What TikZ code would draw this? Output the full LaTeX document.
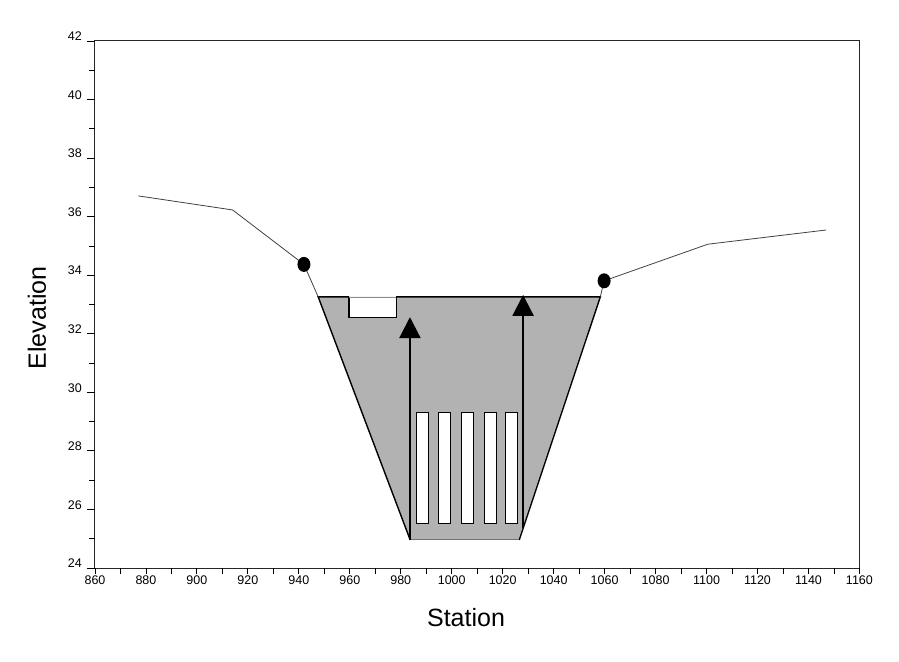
\documentclass[tikz,border=0pt]{standalone}
\usepackage{fontspec}
\setmainfont{Liberation Sans}
\usetikzlibrary{arrows.meta}
\begin{document}
\begin{tikzpicture}[x=2.548pt,y=29.28pt,
  frame/.style={draw=black!85, line width=1pt},
  tickline/.style={draw=black, line width=0.9pt},
  ground/.style={draw=black!75, line width=0.8pt},
  ticklab/.style={font=\fontsize{12.5}{14}\selectfont, inner sep=0pt},
  axlab/.style={font=\fontsize{25}{30}\selectfont, inner sep=0pt},
  bank/.style={draw=black, line width=1.4pt},
  pier/.style={fill=white, draw=black, line width=1pt},
  flow/.style={draw=black, line width=2.2pt, -{Triangle[width=21pt,length=21pt]}},
  gauge/.style={fill=black}
]
\useasboundingbox (-37.28,-3.176) rectangle (315.53,19.40);
% frame
\draw[frame] (0,0) rectangle (300,18);
% y ticks
\foreach \e in {0,2,...,18}{
  \draw[tickline] (0,\e) -- ++(-8pt,0);
  \pgfmathtruncatemacro{\lab}{24+\e}
  \node[ticklab, anchor=south east] (yl\e) at ([xshift=-13pt]0,\e) {\lab};
}
\foreach \e in {1,3,...,17}{
  \draw[tickline] (0,\e) -- ++(-6pt,0);
}
% x ticks
\foreach \s in {0,10,...,300}{
  \draw[tickline] (\s,0) -- ++(0,-6pt);
}
\foreach \s in {0,20,...,300}{
  \pgfmathtruncatemacro{\lab}{860+\s}
  \node[ticklab, anchor=north] (xl\s) at ([yshift=-7.7pt]\s,0) {\lab};
}
% axis labels
\node[axlab, rotate=90] (ylabel) at (-22.76,8.54) {Elevation};
\node[axlab, anchor=base] (xlabel) at (145.6,-2.01) {Station};
% points
\coordinate (G1) at (17.0,12.71);
\coordinate (G2) at (54.0,12.23);
\coordinate (C1) at (82.0,10.37);
\coordinate (T1) at (87.6,9.26);
\coordinate (NL) at (99.7,9.26);
\coordinate (NLb) at (99.7,8.56);
\coordinate (NRb) at (118.2,8.56);
\coordinate (NR) at (118.2,9.26);
\coordinate (T2) at (198.3,9.26);
\coordinate (B1) at (123.7,0.96);
\coordinate (B2) at (166.5,0.96);
\coordinate (C2) at (199.8,9.81);
\coordinate (G3) at (240.5,11.06);
\coordinate (G4) at (286.9,11.545);
% channel fill
\fill[black!30] (T1) -- (B1) -- (B2) -- (T2) -- cycle;
\fill[white] (NL) rectangle (NRb);
% piers
\foreach \px in {126.3,134.7,143.9,152.7,161.2}{
  \draw[pier] (\px,1.53) rectangle ++(4.7,3.77);
}
% channel outline
\draw[bank] (NL) -- (T1) -- (B1);
\draw[bank] (NR) -- (T2) -- (B2);
\draw[draw=black, line width=1.1pt] (NL) -- (NLb) -- (NRb) -- (NR);
\draw[draw=black!45, line width=0.8pt] (NL) -- (NR);
\draw[draw=black!55, line width=1pt] (B1) -- (B2);
% ground line
\draw[ground] (G1) -- (G2) -- (C1) -- (T1);
\draw[ground] (T2) -- (C2) -- (G3) -- (G4);
% gauges
\fill[gauge] (C1) ellipse [x radius=6.5pt, y radius=7.5pt];
\fill[gauge] (C2) ellipse [x radius=6.5pt, y radius=7.5pt];
% flow arrows
\coordinate (A1s) at (123.6,0.96);
\coordinate (A1e) at (123.6,8.57);
\coordinate (A2s) at (168.0,1.37);
\coordinate (A2e) at (168.0,9.33);
\draw[flow] (A1s) -- (A1e);
\draw[flow] (A2s) -- (A2e);
\end{tikzpicture}
\end{document}
